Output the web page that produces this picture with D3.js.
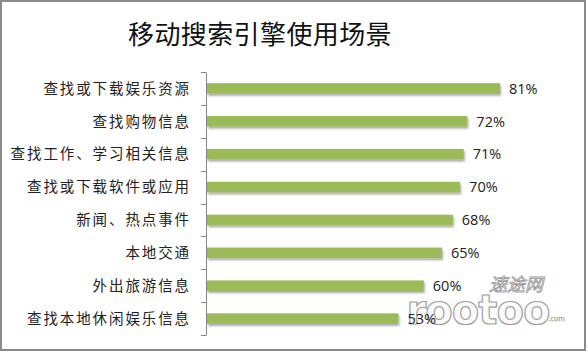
<!DOCTYPE html>
<html>
<head>
<meta charset="utf-8">
<script src="https://cdn.jsdelivr.net/npm/d3@7.9.0/dist/d3.min.js"></script>
<style>
  html, body { margin: 0; padding: 0; background: #fff; }
  svg { display: block; }
</style>
</head>
<body>
<svg id="chart" width="588" height="353"></svg>
<script>
// === Data ===
const categories = [
  '查找或下载娱乐资源',
  '查找购物信息',
  '查找工作、学习相关信息',
  '查找或下载软件或应用',
  '新闻、热点事件',
  '本地交通',
  '外出旅游信息',
  '查找本地休闲娱乐信息'
];
const values = [0.81, 0.72, 0.71, 0.70, 0.68, 0.65, 0.60, 0.53];
const titleText = '移动搜索引擎使用场景';

const width = 588, height = 353;
const margin = { top: 72, left: 206, bottom: 18, right: 19 };

const svg = d3.select('#chart');

// outer frame
svg.append('rect')
  .attr('x', 1).attr('y', 1)
  .attr('width', width - 4).attr('height', height - 4)
  .attr('fill', '#fff')
  .attr('stroke', '#8a8a8a')
  .attr('stroke-width', 2);

// title
svg.append('text')
  .attr('x', 260).attr('y', 44)
  .attr('text-anchor', 'middle')
  .attr('font-family', '"Noto Sans CJK SC", sans-serif')
  .attr('font-size', 26)
  .attr('letter-spacing', 0.4)
  .attr('fill', '#111')
  .text(titleText);

// scales
const x = d3.scaleLinear().domain([0, 1]).range([margin.left, 569]);
const y = d3.scaleBand()
  .domain(categories)
  .range([margin.top, 335])
  .paddingInner(0.68)
  .paddingOuter(0.34);

// shadow filter
const defs = svg.append('defs');
const f = defs.append('filter').attr('id', 'shadow')
  .attr('x', '-5%').attr('y', '-50%').attr('width', '110%').attr('height', '250%');
f.append('feDropShadow')
  .attr('dx', 1).attr('dy', 2)
  .attr('stdDeviation', 1)
  .attr('flood-color', '#000')
  .attr('flood-opacity', 0.35);

// watermark (behind everything else)
const wm = svg.append('g');
wm.append('text')
  .attr('x', 516).attr('y', 291)
  .attr('text-anchor', 'middle')
  .attr('font-family', '"Noto Sans CJK SC", sans-serif')
  .attr('font-size', 18)
  .attr('font-style', 'italic')
  .attr('fill', '#fff')
  .attr('stroke', '#999')
  .attr('stroke-width', 0.8)
  .text('速途网');
wm.append('text')
  .attr('x', 478).attr('y', 324)
  .attr('text-anchor', 'middle')
  .attr('font-family', '"DejaVu Sans", sans-serif')
  .attr('font-weight', 'bold')
  .attr('font-size', 40)
  .attr('letter-spacing', -1)
  .attr('fill', '#fafafa')
  .attr('stroke', '#a0a0a0')
  .attr('stroke-width', 1.2)
  .text('rootoo');
wm.append('text')
  .attr('x', 548).attr('y', 321)
  .attr('font-family', '"DejaVu Sans", sans-serif')
  .attr('font-size', 7)
  .attr('fill', '#fff')
  .attr('stroke', '#999')
  .attr('stroke-width', 0.4)
  .text('.com');

// bars
svg.append('g').selectAll('rect')
  .data(values)
  .join('rect')
  .attr('x', x(0) + 1)
  .attr('y', (d, i) => y(categories[i]))
  .attr('width', d => x(d) - x(0) - 1)
  .attr('height', y.bandwidth())
  .attr('fill', '#9bbb59')
  .attr('filter', 'url(#shadow)');

// axis
const yAxis = d3.axisLeft(y).tickSize(0).tickFormat('');
const axisG = svg.append('g')
  .attr('transform', `translate(${margin.left},0)`)
  .call(yAxis);
axisG.select('.domain').attr('stroke', '#868686').attr('stroke-width', 1);

// tick marks between categories
const bounds = d3.range(categories.length + 1).map(i => margin.top + i * y.step());
svg.append('g').selectAll('line')
  .data(bounds)
  .join('line')
  .attr('x1', margin.left - 5).attr('x2', margin.left)
  .attr('y1', d => Math.round(d) + 0.5).attr('y2', d => Math.round(d) + 0.5)
  .attr('stroke', '#868686');

// category labels
svg.append('g').selectAll('text')
  .data(categories)
  .join('text')
  .attr('x', 191)
  .attr('y', d => y(d) + y.bandwidth() / 2)
  .attr('dy', '0.36em')
  .attr('text-anchor', 'end')
  .attr('font-family', '"Noto Sans CJK SC", sans-serif')
  .attr('font-size', 14.5)
  .attr('letter-spacing', 1.9)
  .attr('fill', '#222')
  .text(d => d);

// value labels
svg.append('g').selectAll('text')
  .data(values)
  .join('text')
  .attr('x', d => x(d) + 9)
  .attr('y', (d, i) => y(categories[i]) + y.bandwidth() / 2)
  .attr('dy', '0.36em')
  .attr('font-family', '"Open Sans", sans-serif')
  .attr('font-size', 14.5)
  .attr('fill', '#222')
  .text(d => d3.format('.0%')(d));
</script>
</body>
</html>
